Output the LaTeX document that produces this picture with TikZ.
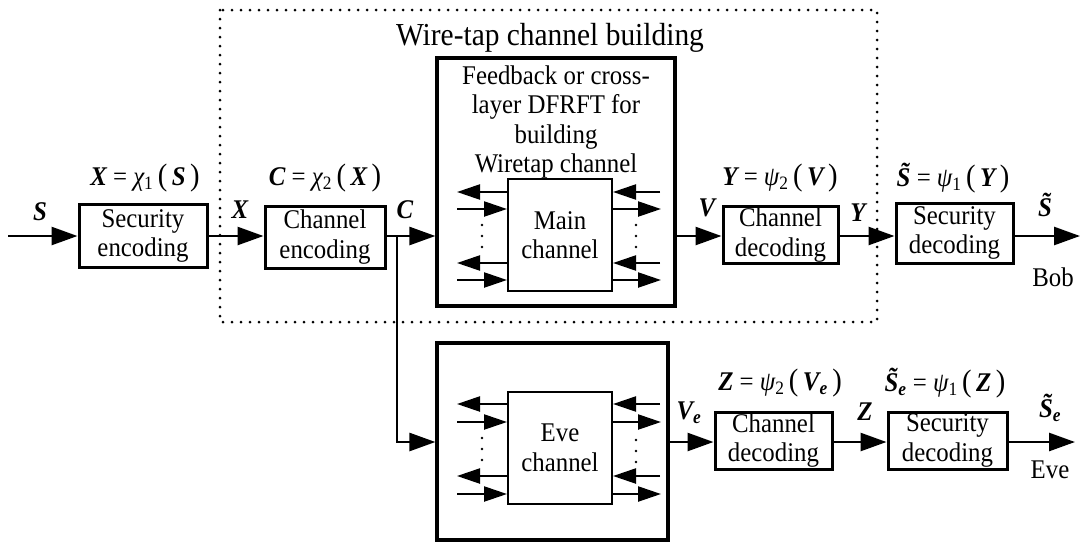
\documentclass[tikz,border=0pt]{standalone}
\usepackage{fontspec}
\setmainfont[FakeStretch=0.92]{Liberation Serif}
\usetikzlibrary{arrows.meta}
\newcommand\bi[1]{{\bfseries\itshape #1}}
\newcommand\gi[1]{{\itshape #1}}
\newcommand\lp{\,{\fontsize{31}{31}\selectfont(}\,}
\newcommand\rp{\,{\fontsize{31}{31}\selectfont)}}
\begin{document}
\begin{tikzpicture}[x=1pt,y=-1pt,
  every node/.style={font=\fontsize{27}{29.5}\selectfont},
  blk/.style={draw,line width=3pt,align=center,inner sep=0pt},
  bigblk/.style={draw,line width=3.2pt,inner sep=0pt},
  inner/.style={draw,line width=2pt,inner sep=0pt,align=center},
  arr/.style={line width=2.6pt,-{Triangle[length=26pt,width=18pt]}},
  sarr/.style={line width=2.3pt,-{Triangle[length=23pt,width=15pt]}},
  lab/.style={inner sep=0pt},
  dotline/.style={line width=3pt,dash pattern=on 0pt off 9pt,line cap=round},
  smalldots/.style={line width=2.6pt,dash pattern=on 0pt off 11pt,line cap=round}]
\useasboundingbox (0,0) rectangle (1086,542);
% wire-tap region
\draw[dotline] (220,10) rectangle (877,322);
\node[lab,font=\fontsize{32}{34}\selectfont] (title) at (550,38) {Wire-tap channel building};
% top row blocks
\node[blk,minimum width=128pt,minimum height=63pt] (senc) at (143,236) {Security\\encoding};
\node[blk,minimum width=120pt,minimum height=62pt] (cenc) at (325,237) {Channel\\encoding};
\node[bigblk,minimum width=238pt,minimum height=248pt] (mbig) at (556,182) {};
\node[lab,align=center] (fbtext) at (556,122) {Feedback or cross-\\layer DFRFT for\\building\\Wiretap channel};
\node[inner,minimum width=104pt,minimum height=112pt] (mch) at (560,235) {Main\\channel};
\node[blk,minimum width=115pt,minimum height=57pt] (cdec) at (780.5,235) {Channel\\decoding};
\node[blk,minimum width=117pt,minimum height=60pt] (sdec) at (954.5,233) {Security\\decoding};
% bottom row blocks
\node[bigblk,minimum width=231pt,minimum height=197pt] (ebig) at (552.5,441.5) {};
\node[inner,minimum width=104pt,minimum height=112pt] (ech) at (560,448) {Eve\\channel};
\node[blk,minimum width=117pt,minimum height=57pt] (cdecE) at (773.5,440.5) {Channel\\decoding};
\node[blk,minimum width=119pt,minimum height=57pt] (sdecE) at (947.5,440.5) {Security\\decoding};
% coordinates
\coordinate (sin) at (8,236);
\coordinate (br) at (397,236);
\coordinate (bob) at (1080,236);
\coordinate (eveout) at (1075,442);
% main flow
\draw[arr] (sin) -- (senc.west |- sin);
\draw[arr] (senc.east |- sin) -- (cenc.west |- sin);
\draw[arr] (cenc.east |- sin) -- (mbig.west |- sin);
\draw[arr] (mbig.east |- sin) -- (cdec.west |- sin);
\draw[arr] (cdec.east |- sin) -- (sdec.west |- sin);
\draw[arr] (sdec.east |- sin) -- (bob);
% branch to Eve
\draw[arr] (br) |- (ebig.west |- eveout);
\draw[arr] (ebig.east |- eveout) -- (cdecE.west |- eveout);
\draw[arr] (cdecE.east |- eveout) -- (sdecE.west |- eveout);
\draw[arr] (sdecE.east |- eveout) -- (eveout);
% inner arrows main channel
\foreach \y in {192,263}{
  \draw[sarr] (mch.west |- 0,\y) -- (457,\y);
  \draw[sarr] (660,\y) -- (mch.east |- 0,\y);}
\foreach \y in {209,280}{
  \draw[sarr] (457,\y) -- (mch.west |- 0,\y);
  \draw[sarr] (mch.east |- 0,\y) -- (661,\y);}
\draw[smalldots] (482,225) -- (482,250);
\draw[smalldots] (636,225) -- (636,250);
% inner arrows eve channel
\foreach \y in {404,476}{
  \draw[sarr] (ech.west |- 0,\y) -- (457,\y);
  \draw[sarr] (660,\y) -- (ech.east |- 0,\y);}
\foreach \y in {422,494}{
  \draw[sarr] (457,\y) -- (ech.west |- 0,\y);
  \draw[sarr] (ech.east |- 0,\y) -- (661,\y);}
\draw[smalldots] (482,438) -- (482,463);
\draw[smalldots] (636,440) -- (636,463);
% signal labels
\node[lab] (lS) at (40,212) {\bi{S}};
\node[lab] (lX) at (240,210) {\bi{X}};
\node[lab] (lC) at (405,210) {\bi{C}};
\node[lab] (lV) at (707,208) {\bi{V}};
\node[lab] (lY) at (858,213) {\bi{Y}};
\node[lab] (lSt) at (1045,205) {\bi{\~S}};
\node[lab] (lBob) at (1053,277) {Bob};
\node[lab] (lVe) at (689,413) {\bi{V}\textsubscript{\bi{e}}};
\node[lab] (lZ) at (865,412) {\bi{Z}};
\node[lab] (lSe) at (1050,408) {\bi{\~S}\textsubscript{\bi{e}}};
\node[lab] (lEve) at (1050,470) {Eve};
% formulas
\node[lab] (f1) at (145,178) {\bi{X} = \gi{χ}\textsubscript{1}\lp\bi{S}\rp};
\node[lab] (f2) at (325,178) {\bi{C} = \gi{χ}\textsubscript{2}\lp\bi{X}\rp};
\node[lab] (f3) at (780,178) {\bi{Y} = \gi{ψ}\textsubscript{2}\lp\bi{V}\rp};
\node[lab] (f4) at (953,178) {\bi{\~S} = \gi{ψ}\textsubscript{1}\lp\bi{Y}\rp};
\node[lab] (f5) at (780,383) {\bi{Z} = \gi{ψ}\textsubscript{2}\lp\bi{V}\textsubscript{\bi{e}}\rp};
\node[lab] (f6) at (945,383) {\bi{\~S}\textsubscript{\bi{e}} = \gi{ψ}\textsubscript{1}\lp\bi{Z}\rp};
\end{tikzpicture}
\end{document}
